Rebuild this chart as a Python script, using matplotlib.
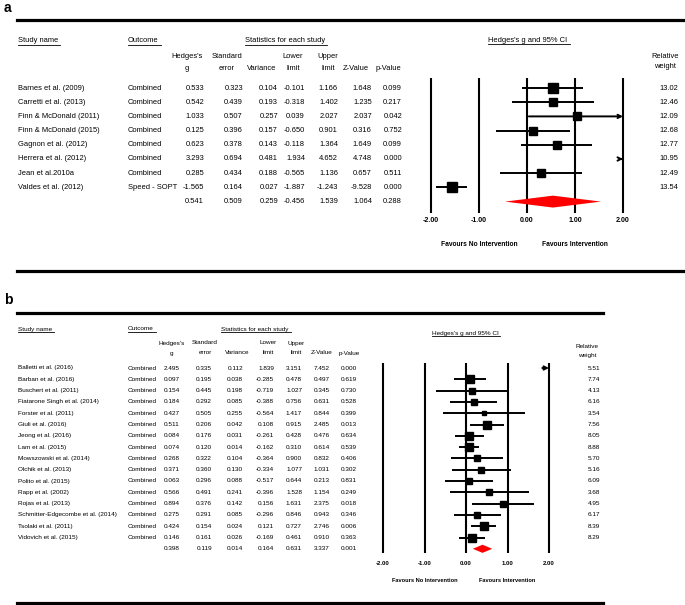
import numpy as np
import matplotlib
matplotlib.use("Agg")
import matplotlib.pyplot as plt
from matplotlib.transforms import blended_transform_factory
from matplotlib.lines import Line2D

plt.rcParams['font.family'] = ['Liberation Sans', 'DejaVu Sans']

# ---- panel a data ----
studies_a = ["Barnes et al. (2009)", "Carretti et al. (2013)", "Finn & McDonald (2011)",
             "Finn & McDonald (2015)", "Gagnon et al. (2012)", "Herrera et al. (2012)",
             "Jean et al.2010a", "Valdes et al. (2012)"]
outcome_a = ["Combined"] * 7 + ["Speed - SOPT"]
g_a = [0.533, 0.542, 1.033, 0.125, 0.623, 3.293, 0.285, -1.565]
se_a = [0.323, 0.439, 0.507, 0.396, 0.378, 0.694, 0.434, 0.164]
var_a = [0.104, 0.193, 0.257, 0.157, 0.143, 0.481, 0.188, 0.027]
lo_a = [-0.101, -0.318, 0.039, -0.650, -0.118, 1.934, -0.565, -1.887]
hi_a = [1.166, 1.402, 2.027, 0.901, 1.364, 4.652, 1.136, -1.243]
z_a = [1.648, 1.235, 2.037, 0.316, 1.649, 4.748, 0.657, -9.528]
p_a = [0.099, 0.217, 0.042, 0.752, 0.099, 0.000, 0.511, 0.000]
w_a = [13.02, 12.46, 12.09, 12.68, 12.77, 10.95, 12.49, 13.54]
total_a = [0.541, 0.509, 0.259, -0.456, 1.539, 1.064, 0.288]  # g, se, var, lo, hi, z, p

# ---- panel b data ----
studies_b = ["Balletti et al. (2016)", "Barban et al. (2016)", "Buschert et al. (2011)",
             "Fiatarone Singh et al. (2014)", "Forster et al. (2011)", "Giuli et al. (2016)",
             "Jeong et al. (2016)", "Lam et al. (2015)", "Mowszowski et al. (2014)",
             "Olchik et al. (2013)", "Polito et al. (2015)", "Rapp et al. (2002)",
             "Rojas et al. (2013)", "Schmitter-Edgecombe et al. (2014)",
             "Tsolaki et al. (2011)", "Vidovich et al. (2015)"]
outcome_b = ["Combined"] * 16
g_b = [2.495, 0.097, 0.154, 0.184, 0.427, 0.511, 0.084, 0.074, 0.268, 0.371, 0.063,
       0.566, 0.894, 0.275, 0.424, 0.146]
se_b = [0.335, 0.195, 0.445, 0.292, 0.505, 0.206, 0.176, 0.120, 0.322, 0.360, 0.296,
        0.491, 0.376, 0.291, 0.154, 0.161]
var_b = [0.112, 0.038, 0.198, 0.085, 0.255, 0.042, 0.031, 0.014, 0.104, 0.130, 0.088,
         0.241, 0.142, 0.085, 0.024, 0.026]
lo_b = [1.839, -0.285, -0.719, -0.388, -0.564, 0.108, -0.261, -0.162, -0.364, -0.334,
        -0.517, -0.396, 0.156, -0.296, 0.121, -0.169]
hi_b = [3.151, 0.478, 1.027, 0.756, 1.417, 0.915, 0.428, 0.310, 0.900, 1.077, 0.644,
        1.528, 1.631, 0.846, 0.727, 0.461]
z_b = [7.452, 0.497, 0.345, 0.631, 0.844, 2.485, 0.476, 0.614, 0.832, 1.031, 0.213,
       1.154, 2.375, 0.943, 2.746, 0.910]
p_b = [0.000, 0.619, 0.730, 0.528, 0.399, 0.013, 0.634, 0.539, 0.406, 0.302, 0.831,
       0.249, 0.018, 0.346, 0.006, 0.363]
w_b = [5.51, 7.74, 4.13, 6.16, 3.54, 7.56, 8.05, 8.88, 5.70, 5.16, 6.09, 3.68, 4.95,
       6.17, 8.39, 8.29]
total_b = [0.398, 0.119, 0.014, 0.164, 0.631, 3.337, 0.001]

ticks = [-2, -1, 0, 1, 2]
tick_labels = ["-2.00", "-1.00", "0.00", "1.00", "2.00"]

W, H = 685, 605
fig = plt.figure(figsize=(W / 100, H / 100), dpi=100)
underlined = []


def panel(data, lay):
    studies, outcome, g, se, var, lo, hi, z, p, w, total = data
    fs = lay['fs']
    r0, step = lay['r0'], lay['step']
    row = lambda ypx: (ypx - r0) / step
    n = len(studies)

    # forest axes: x in effect size, y in rows
    L = lay['x0'] - 2.3 * lay['ppu']
    R = lay['x0'] + 2.3 * lay['ppu']
    T = r0 - step
    B = lay['tick_y'] - 4
    ax = fig.add_axes([L / W, 1 - B / H, (R - L) / W, (B - T) / H])
    ax.set_xlim(-2.3, 2.3)
    ax.set_ylim(row(B), -1)
    for s in ax.spines.values():
        s.set_visible(False)
    ax.patch.set_visible(False)
    ax.set_yticks([])
    ax.set_xticks(ticks)
    ax.set_xticklabels(tick_labels, fontsize=lay['tfs'], fontweight='bold')
    ax.tick_params(axis='x', length=0, pad=0.5)

    ax.vlines(ticks, row(lay['vtop']), row(lay['vbot']), color='black', lw=1.5, zorder=1)

    ys = np.arange(n)
    for yi, gi, l, h, wi in zip(ys, g, lo, hi, w):
        lc, hc = max(l, -2), min(h, 2)
        if h > 2:
            ax.annotate('', xy=(2, yi), xytext=(lc, yi),
                        arrowprops=dict(arrowstyle='->', lw=1.4, color='black',
                                        shrinkA=0, shrinkB=0, mutation_scale=6))
        else:
            ax.plot([lc, hc], [yi, yi], color='black', lw=1.4, zorder=2, solid_capstyle='butt')
        if -2 <= gi <= 2:
            ax.plot(gi, yi, 's', ms=lay['k'] * np.sqrt(wi) * 0.72, color='black', zorder=3)

    tg, tl, th = total[0], total[3], total[4]
    dh = lay['dh']
    ax.fill([tl, tg, th, tg], [n, n - dh, n, n + dh], color='red', lw=0, zorder=3)

    tr = blended_transform_factory(fig.transFigure, ax.transData)

    def txt(x, y, s, ha='left', **kw):
        return ax.text(x / W, y, s, transform=tr, ha=ha, va='center', fontsize=fs,
                       clip_on=False, **kw)

    # headers
    hy = row(lay['title_y'])
    underlined.append(txt(lay['name_x'], hy, "Study name"))
    underlined.append(txt(lay['out_x'], hy, "Outcome"))
    underlined.append(txt(lay['stats_x'], hy, "Statistics for each study", ha='center'))
    underlined.append(txt(lay['ci_x'], row(lay['ci_y']), "Hedges's g and 95% CI", ha='center'))

    y1, y2 = row(lay['h1']), row(lay['h2'])
    hc = lay['hcols']
    txt(hc[0], y1, "Hedges's", ha='center'); txt(hc[0], y2, "g", ha='center')
    txt(hc[1], y1, "Standard", ha='center'); txt(hc[1], y2, "error", ha='center')
    txt(hc[2], y2, "Variance", ha='center')
    txt(hc[3], y1, "Lower", ha='center'); txt(hc[3], y2, "limit", ha='center')
    txt(hc[4], y1, "Upper", ha='center'); txt(hc[4], y2, "limit", ha='center')
    txt(hc[5], y2, "Z-Value", ha='center')
    txt(hc[6], y2, "p-Value", ha='center')
    txt(lay['rel_x'], row(lay['r1']), "Relative", ha='center')
    txt(lay['rel_x'], row(lay['r2']), "weight", ha='center')

    vc = lay['vcols']
    for i in range(n):
        txt(lay['name_x'], i, studies[i])
        txt(lay['out_x'], i, outcome[i])
        for j, v in enumerate([g[i], se[i], var[i], lo[i], hi[i], z[i], p[i]]):
            txt(vc[j], i, f"{v:.3f}", ha='right')
        txt(lay['rel_r'], i, f"{w[i]:.2f}", ha='right')
    for j, v in enumerate(total):
        txt(vc[j], n, f"{v:.3f}", ha='right')

    fy = row(lay['fav_y'])
    ax.text(-1, fy, "Favours No Intervention", ha='center', va='center',
            fontsize=lay['ffs'], fontweight='bold', clip_on=False)
    ax.text(1, fy, "Favours Intervention", ha='center', va='center',
            fontsize=lay['ffs'], fontweight='bold', clip_on=False)

    for ypx in (lay['line_top'], lay['line_bot']):
        fig.add_artist(Line2D([17 / W, lay['line_r'] / W], [1 - ypx / H] * 2,
                              transform=fig.transFigure, color='black', lw=2.3))
    fig.text(lay['lab'][0] / W, 1 - lay['lab'][1] / H, lay['label'], fontsize=10,
             fontweight='bold', ha='left', va='center')


lay_a = dict(fs=5.4, tfs=5.0, ffs=4.8, r0=88, step=14.2, x0=527, ppu=48, tick_y=220, fav_y=244,
             vtop=78, vbot=213, k=2.5, dh=0.42,
             title_y=41, ci_y=40, h1=57, h2=68, r1=56, r2=67,
             name_x=18, out_x=128, stats_x=285, ci_x=528, rel_x=665, rel_r=678,
             hcols=[187, 227, 262, 293, 328, 356, 388],
             vcols=[204, 243, 278, 305, 338, 372, 402],
             line_top=20, line_bot=271, line_r=685, lab=(4, 8), label='a')

lay_b = dict(fs=4.6, tfs=4.3, ffs=4.1, r0=368, step=11.3, x0=466, ppu=41.5, tick_y=564, fav_y=581,
             vtop=363, vbot=553, k=2.65, dh=0.36,
             title_y=329, ci_y=333, h1=343, h2=353, r1=347, r2=355,
             name_x=18, out_x=128, stats_x=255, ci_x=465, rel_x=587, rel_r=600,
             hcols=[172, 205, 237, 268, 296, 322, 349],
             vcols=[180, 212, 243, 274, 302, 330, 357],
             line_top=313, line_bot=603, line_r=603, lab=(4, 300), label='b')

panel((studies_a, outcome_a, g_a, se_a, var_a, lo_a, hi_a, z_a, p_a, w_a, total_a), lay_a)
panel((studies_b, outcome_b, g_b, se_b, var_b, lo_b, hi_b, z_b, p_b, w_b, total_b), lay_b)

# underline the section headers
fig.canvas.draw()
rend = fig.canvas.get_renderer()
for t in underlined:
    bb = t.get_window_extent(rend)
    fig.add_artist(Line2D([bb.x0 / W, (bb.x1 + 2) / W], [(bb.y0 - 0.5) / H] * 2,
                          transform=fig.transFigure, color='black', lw=0.6))

fig.savefig("out.png", dpi=100)
